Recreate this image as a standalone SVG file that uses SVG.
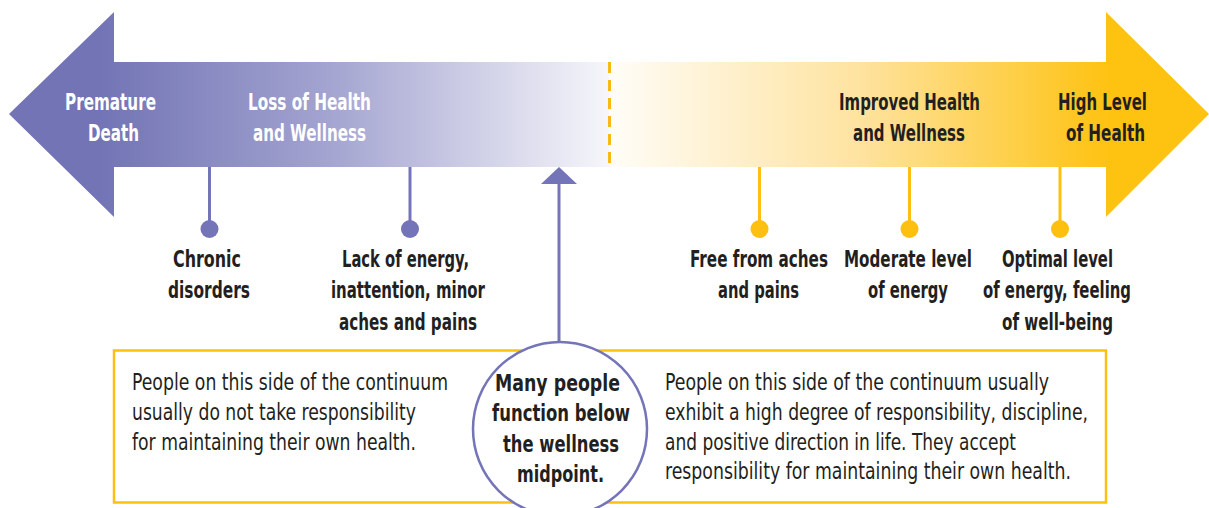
<svg xmlns="http://www.w3.org/2000/svg" width="1209" height="508" viewBox="0 0 1209 508">
<defs>
<linearGradient id="gPurple" gradientUnits="userSpaceOnUse" x1="100" y1="0" x2="609" y2="0">
<stop offset="0" stop-color="#7274b5"/>
<stop offset="0.45" stop-color="#a3a4d0"/>
<stop offset="1" stop-color="#f6f6fb"/>
</linearGradient>
<linearGradient id="gYellow" gradientUnits="userSpaceOnUse" x1="609" y1="0" x2="1110" y2="0">
<stop offset="0" stop-color="#fffdf8"/>
<stop offset="0.5" stop-color="#fee3a0"/>
<stop offset="1" stop-color="#fec211"/>
</linearGradient>
<style>
.t{font-family:"Liberation Sans Narrow","DejaVu Sans Condensed","Liberation Sans",sans-serif;font-size:23px;}
.hw{fill:#ffffff;font-weight:bold;}
.hd{fill:#231f20;font-weight:bold;}
.lb{fill:#231f20;font-weight:bold;}
.bx{fill:#231f20;font-weight:normal;}
.cb{fill:#231f20;font-weight:bold;}
.pl{stroke:#7474b8;stroke-width:3;fill:none;}
.yl{stroke:#fdc010;stroke-width:3;fill:none;}
</style>
</defs>

<g id="left-arrow">
<path d="M9,114 L114,12 L114,62 L609,62 L609,167 L114,167 L114,217 Z" fill="url(#gPurple)"/>
<text class="t hw" x="65" y="110" textLength="91" lengthAdjust="spacingAndGlyphs">Premature</text>
<text class="t hw" x="88" y="141" textLength="51" lengthAdjust="spacingAndGlyphs">Death</text>
<text class="t hw" x="248" y="110" textLength="123" lengthAdjust="spacingAndGlyphs">Loss of Health</text>
<text class="t hw" x="253" y="141" textLength="113" lengthAdjust="spacingAndGlyphs">and Wellness</text>
</g>

<g id="right-arrow">
<path d="M609,62 L1106,62 L1106,12 L1209,114 L1106,217 L1106,167 L609,167 Z" fill="url(#gYellow)"/>
<text class="t hd" x="839" y="110" textLength="141" lengthAdjust="spacingAndGlyphs">Improved Health</text>
<text class="t hd" x="853" y="141" textLength="112" lengthAdjust="spacingAndGlyphs">and Wellness</text>
<text class="t hd" x="1058" y="110" textLength="89" lengthAdjust="spacingAndGlyphs">High Level</text>
<text class="t hd" x="1066" y="141" textLength="79" lengthAdjust="spacingAndGlyphs">of Health</text>
</g>

<g id="connectors">
<line x1="609.5" y1="62" x2="609.5" y2="167" stroke="#f9b915" stroke-width="3" stroke-dasharray="11,7"/>
<line class="pl" x1="209.5" y1="167" x2="209.5" y2="228"/>
<line class="pl" x1="410" y1="167" x2="410" y2="228"/>
<line class="yl" x1="759.5" y1="167" x2="759.5" y2="228"/>
<line class="yl" x1="909.5" y1="167" x2="909.5" y2="228"/>
<line class="yl" x1="1060" y1="167" x2="1060" y2="228"/>
<line class="pl" x1="559" y1="182" x2="559" y2="342"/>
<path d="M559,167 L577,184 L541,184 Z" fill="#7474b8"/>
</g>

<g id="chronic">
<circle cx="209.5" cy="229" r="9" fill="#7474b8"/>
<text class="t lb" x="173" y="267" textLength="68" lengthAdjust="spacingAndGlyphs">Chronic</text>
<text class="t lb" x="168" y="298" textLength="82" lengthAdjust="spacingAndGlyphs">disorders</text>
</g>

<g id="lack-energy">
<circle cx="410" cy="229" r="9" fill="#7474b8"/>
<text class="t lb" x="342" y="267" textLength="127" lengthAdjust="spacingAndGlyphs">Lack of energy,</text>
<text class="t lb" x="331" y="298" textLength="154" lengthAdjust="spacingAndGlyphs">inattention, minor</text>
<text class="t lb" x="339" y="330" textLength="138" lengthAdjust="spacingAndGlyphs">aches and pains</text>
</g>

<g id="free-aches">
<circle cx="759.5" cy="229" r="9" fill="#fdc010"/>
<text class="t lb" x="690" y="267" textLength="138" lengthAdjust="spacingAndGlyphs">Free from aches</text>
<text class="t lb" x="718" y="298" textLength="81" lengthAdjust="spacingAndGlyphs">and pains</text>
</g>

<g id="moderate">
<circle cx="909.5" cy="229" r="9" fill="#fdc010"/>
<text class="t lb" x="844" y="267" textLength="128" lengthAdjust="spacingAndGlyphs">Moderate level</text>
<text class="t lb" x="868" y="298" textLength="80" lengthAdjust="spacingAndGlyphs">of energy</text>
</g>

<g id="optimal">
<circle cx="1060" cy="229" r="9" fill="#fdc010"/>
<text class="t lb" x="1002" y="267" textLength="111" lengthAdjust="spacingAndGlyphs">Optimal level</text>
<text class="t lb" x="983" y="298" textLength="148" lengthAdjust="spacingAndGlyphs">of energy, feeling</text>
<text class="t lb" x="1002" y="330" textLength="111" lengthAdjust="spacingAndGlyphs">of well-being</text>
</g>

<g id="info-box">
<rect x="114" y="350.5" width="992" height="152" fill="#ffffff" stroke="#fdc010" stroke-width="2.5"/>
<text class="t bx" x="132" y="390" textLength="316" lengthAdjust="spacingAndGlyphs">People on this side of the continuum</text>
<text class="t bx" x="132" y="420" textLength="284" lengthAdjust="spacingAndGlyphs">usually do not take responsibility</text>
<text class="t bx" x="132" y="450" textLength="284" lengthAdjust="spacingAndGlyphs">for maintaining their own health.</text>
<text class="t bx" x="665" y="390" textLength="384" lengthAdjust="spacingAndGlyphs">People on this side of the continuum usually</text>
<text class="t bx" x="665" y="420" textLength="423" lengthAdjust="spacingAndGlyphs">exhibit a high degree of responsibility, discipline,</text>
<text class="t bx" x="665" y="450" textLength="351" lengthAdjust="spacingAndGlyphs">and positive direction in life. They accept</text>
<text class="t bx" x="665" y="479" textLength="406" lengthAdjust="spacingAndGlyphs">responsibility for maintaining their own health.</text>
</g>

<g id="midpoint">
<circle cx="560" cy="429" r="87" fill="#ffffff" stroke="#7474b8" stroke-width="2.5"/>
<text class="t cb" x="495" y="391" textLength="125" lengthAdjust="spacingAndGlyphs">Many people</text>
<text class="t cb" x="492" y="421" textLength="138" lengthAdjust="spacingAndGlyphs">function below</text>
<text class="t cb" x="503" y="452" textLength="116" lengthAdjust="spacingAndGlyphs">the wellness</text>
<text class="t cb" x="517" y="482" textLength="87" lengthAdjust="spacingAndGlyphs">midpoint.</text>
</g>
</svg>
